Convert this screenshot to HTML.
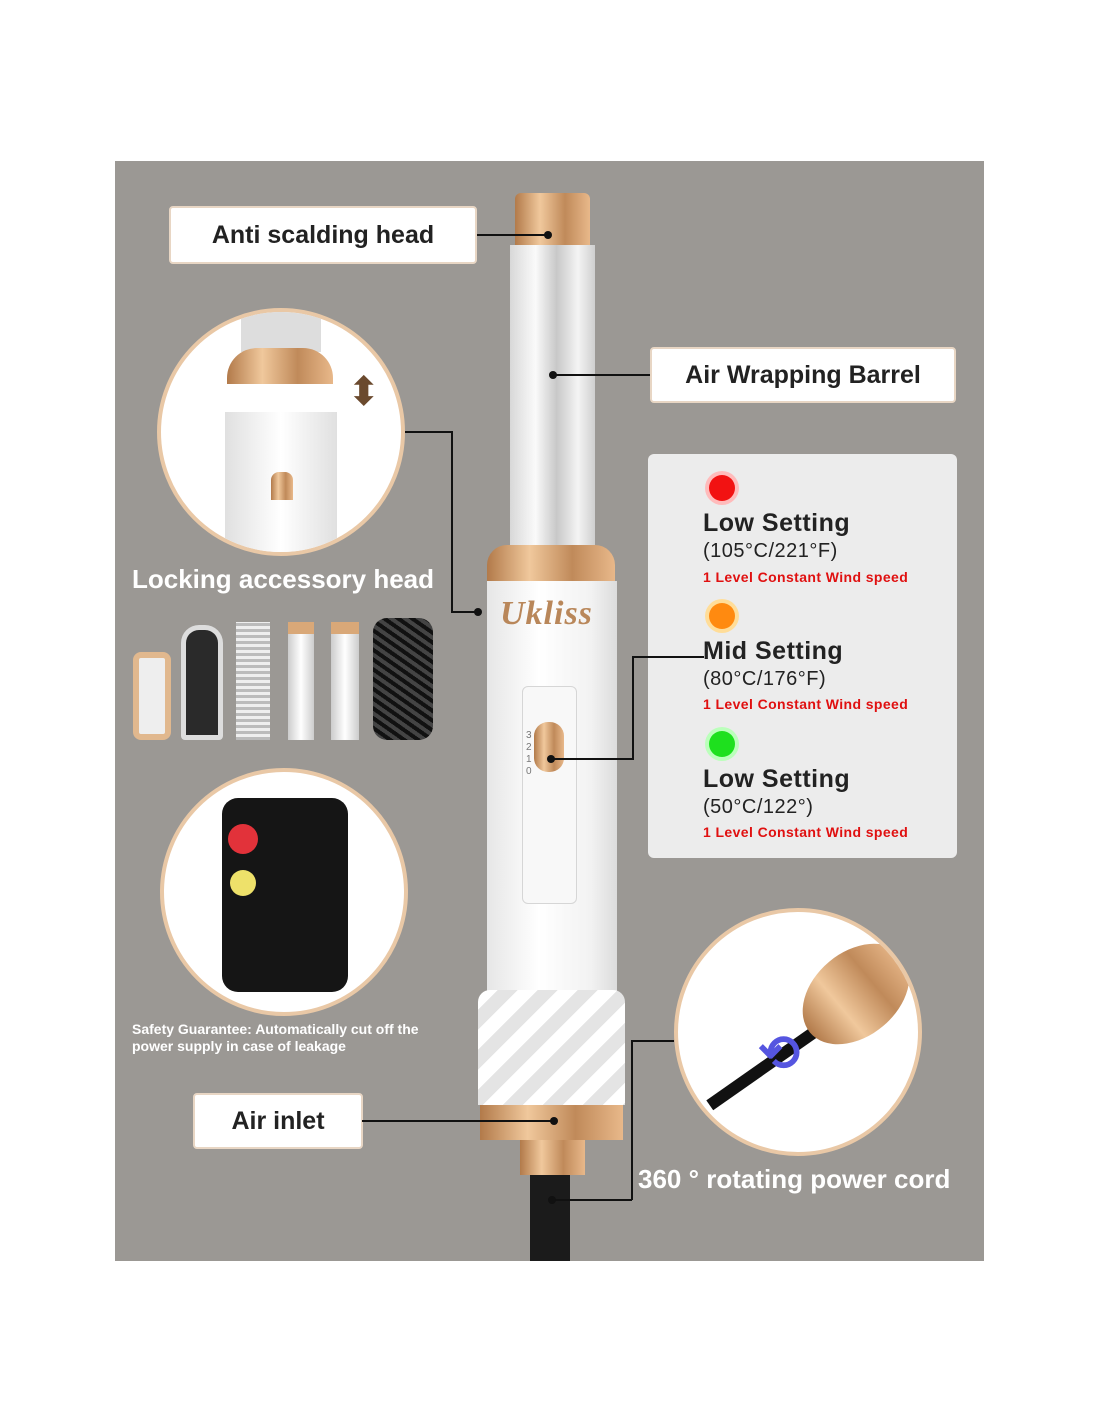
<!DOCTYPE html>
<html><head><meta charset="utf-8"><style>
body{margin:0;width:1100px;height:1422px;background:#fff;position:relative;overflow:hidden;font-family:"Liberation Sans",sans-serif}
.a{position:absolute}
.panel{left:115px;top:161px;width:869px;height:1100px;background:#9b9894}
.lbl{background:#fff;border:2px solid #e8d6c4;border-radius:4px;font-weight:bold;color:#222;text-align:center;box-sizing:border-box}
.circ{border-radius:50%;background:#fff;border:4px solid #e9c8a6;box-sizing:border-box;overflow:hidden}
.line{background:#111}
.dot{width:8px;height:8px;border-radius:50%;background:#111}
.gold{background:linear-gradient(90deg,#b27a4a,#f0c89c,#c08a5a,#e8b88a)}
.wh{color:#fff;font-weight:bold}
.set{font-size:25px;color:#222;font-weight:bold;letter-spacing:0.5px}
.sub{font-size:20px;color:#222;letter-spacing:0.5px}
.red{font-size:14px;color:#e01010;font-weight:bold;letter-spacing:0.4px}
.led{width:26px;height:26px;border-radius:50%}
</style></head><body>
<div class="a panel"></div>

<!-- device -->
<div class="a gold" style="left:515px;top:193px;width:75px;height:52px;border-radius:6px 6px 0 0"></div>
<div class="a" style="left:510px;top:245px;width:85px;height:300px;background:linear-gradient(90deg,#d8d8d8,#fafafa 30%,#c8c8c8 55%,#f4f4f4 80%,#cfcfcf)"></div>
<div class="a gold" style="left:487px;top:545px;width:128px;height:36px;border-radius:20px 20px 0 0"></div>
<div class="a" style="left:487px;top:581px;width:130px;height:410px;background:linear-gradient(90deg,#e6e6e6,#ffffff 40%,#f2f2f2 80%,#dcdcdc)"></div>
<div class="a" style="left:500px;top:595px;font:italic bold 34px 'Liberation Serif',serif;color:#b9875a;letter-spacing:1px">Ukliss</div>
<div class="a" style="left:522px;top:686px;width:53px;height:216px;border:1px solid #d6d6d6;border-radius:6px;background:#f8f8f8"></div>
<div class="a" style="left:526px;top:730px;font-size:10px;color:#777;line-height:12px">3<br>2<br>1<br>0</div>
<div class="a gold" style="left:534px;top:722px;width:30px;height:50px;border-radius:14px"></div>
<div class="a" style="left:478px;top:990px;width:147px;height:115px;background:linear-gradient(135deg,#fff 25%,#e4e4e4 25%,#e4e4e4 50%,#fff 50%,#fff 75%,#e4e4e4 75%);background-size:40px 40px;border-radius:12px 12px 0 0"></div>
<div class="a gold" style="left:480px;top:1105px;width:143px;height:35px"></div>
<div class="a gold" style="left:520px;top:1140px;width:65px;height:35px"></div>
<div class="a" style="left:530px;top:1175px;width:40px;height:86px;background:#1b1b1b"></div>

<!-- labels -->
<div class="a lbl" style="left:169px;top:206px;width:308px;height:58px;font-size:25px;line-height:54px">Anti scalding head</div>
<div class="a line" style="left:477px;top:234px;width:71px;height:2px"></div><div class="a dot" style="left:544px;top:231px"></div>
<div class="a lbl" style="left:650px;top:347px;width:306px;height:56px;font-size:25px;line-height:52px">Air Wrapping Barrel</div>
<div class="a line" style="left:553px;top:374px;width:97px;height:2px"></div><div class="a dot" style="left:549px;top:371px"></div>
<div class="a lbl" style="left:193px;top:1093px;width:170px;height:56px;font-size:25px;line-height:52px">Air inlet</div>
<div class="a line" style="left:362px;top:1120px;width:192px;height:2px"></div><div class="a dot" style="left:550px;top:1117px"></div>

<!-- circle 1 -->
<div class="a circ" style="left:157px;top:308px;width:248px;height:248px">
 <div class="a" style="left:80px;top:0;width:80px;height:40px;background:#ddd"></div>
 <div class="a gold" style="left:66px;top:36px;width:106px;height:36px;border-radius:30px 30px 0 0"></div>
 <div class="a" style="left:64px;top:100px;width:112px;height:150px;background:linear-gradient(90deg,#e0e0e0,#fff 50%,#e0e0e0)"></div>
 <div class="a gold" style="left:110px;top:160px;width:22px;height:28px;border-radius:8px 8px 0 0"></div>
 <div class="a" style="left:186px;top:60px;color:#6b4a2e;font-size:40px;line-height:40px">⬍</div>
</div>
<div class="a line" style="left:405px;top:431px;width:47px;height:2px"></div>
<div class="a line" style="left:451px;top:431px;width:2px;height:181px"></div>
<div class="a line" style="left:451px;top:611px;width:27px;height:2px"></div><div class="a dot" style="left:474px;top:608px"></div>
<div class="a wh" style="left:132px;top:564px;font-size:26px">Locking accessory head</div>

<!-- accessories -->
<div class="a" style="left:133px;top:652px;width:38px;height:88px;border:6px solid #e1b88e;border-radius:8px;box-sizing:border-box;background:#eee"></div>
<div class="a" style="left:181px;top:625px;width:42px;height:115px;background:#2a2a2a;border:5px solid #ddd;border-radius:18px 18px 4px 4px;box-sizing:border-box"></div>
<div class="a" style="left:236px;top:622px;width:34px;height:118px;background:repeating-linear-gradient(0deg,#bbb 0 3px,#eee 3px 6px)"></div>
<div class="a" style="left:288px;top:622px;width:26px;height:118px;background:linear-gradient(90deg,#ccc,#fff,#ccc);border-top:12px solid #d9a878;box-sizing:border-box"></div>
<div class="a" style="left:331px;top:622px;width:28px;height:118px;background:linear-gradient(90deg,#ccc,#fff,#ccc);border-top:12px solid #d9a878;box-sizing:border-box"></div>
<div class="a" style="left:373px;top:618px;width:60px;height:122px;background:repeating-linear-gradient(35deg,#111 0 4px,#444 4px 8px);border-radius:14px"></div>

<!-- circle 2 -->
<div class="a circ" style="left:160px;top:768px;width:248px;height:248px">
 <div class="a" style="left:58px;top:26px;width:126px;height:194px;background:#151515;border-radius:16px"></div>
 <div class="a" style="left:64px;top:52px;width:30px;height:30px;border-radius:50%;background:#e2323a"></div>
 <div class="a" style="left:66px;top:98px;width:26px;height:26px;border-radius:50%;background:#eee16a"></div>
</div>
<div class="a wh" style="left:132px;top:1021px;font-size:14px;line-height:17px">Safety Guarantee: Automatically cut off the<br>power supply in case of leakage</div>

<!-- settings -->
<div class="a" style="left:648px;top:454px;width:309px;height:404px;background:#ececec;border-radius:6px"></div>
<div class="a led" style="left:709px;top:475px;background:#f21212;box-shadow:0 0 0 4px #fbb"></div>
<div class="a set" style="left:703px;top:509px">Low Setting</div>
<div class="a sub" style="left:703px;top:540px">(105°C/221°F)</div>
<div class="a red" style="left:703px;top:569px">1 Level Constant Wind speed</div>
<div class="a led" style="left:709px;top:603px;background:#ff8a10;box-shadow:0 0 0 4px #fd9"></div>
<div class="a set" style="left:703px;top:637px">Mid Setting</div>
<div class="a sub" style="left:703px;top:668px">(80°C/176°F)</div>
<div class="a red" style="left:703px;top:696px">1 Level Constant Wind speed</div>
<div class="a led" style="left:709px;top:731px;background:#1ee01e;box-shadow:0 0 0 4px #bfb"></div>
<div class="a set" style="left:703px;top:765px">Low Setting</div>
<div class="a sub" style="left:703px;top:796px">(50°C/122°)</div>
<div class="a red" style="left:703px;top:824px">1 Level Constant Wind speed</div>
<div class="a line" style="left:632px;top:656px;width:72px;height:2px"></div>
<div class="a line" style="left:632px;top:656px;width:2px;height:103px"></div>
<div class="a line" style="left:551px;top:758px;width:83px;height:2px"></div><div class="a dot" style="left:547px;top:755px"></div>

<!-- circle 3 -->
<div class="a circ" style="left:674px;top:908px;width:248px;height:248px">
 <div class="a" style="left:20px;top:150px;width:130px;height:12px;background:#111;transform:rotate(-35deg)"></div>
 <div class="a gold" style="left:118px;top:40px;width:120px;height:84px;border-radius:50%;transform:rotate(-40deg)"></div>
 <div class="a" style="left:80px;top:112px;color:#5555e0;font-size:50px;font-weight:bold">⟲</div>
</div>
<div class="a line" style="left:632px;top:1040px;width:42px;height:2px"></div>
<div class="a line" style="left:631px;top:1040px;width:2px;height:160px"></div>
<div class="a line" style="left:552px;top:1199px;width:80px;height:2px"></div><div class="a dot" style="left:548px;top:1196px"></div>
<div class="a wh" style="left:638px;top:1164px;font-size:26px">360 ° rotating power cord</div>
</body></html>
